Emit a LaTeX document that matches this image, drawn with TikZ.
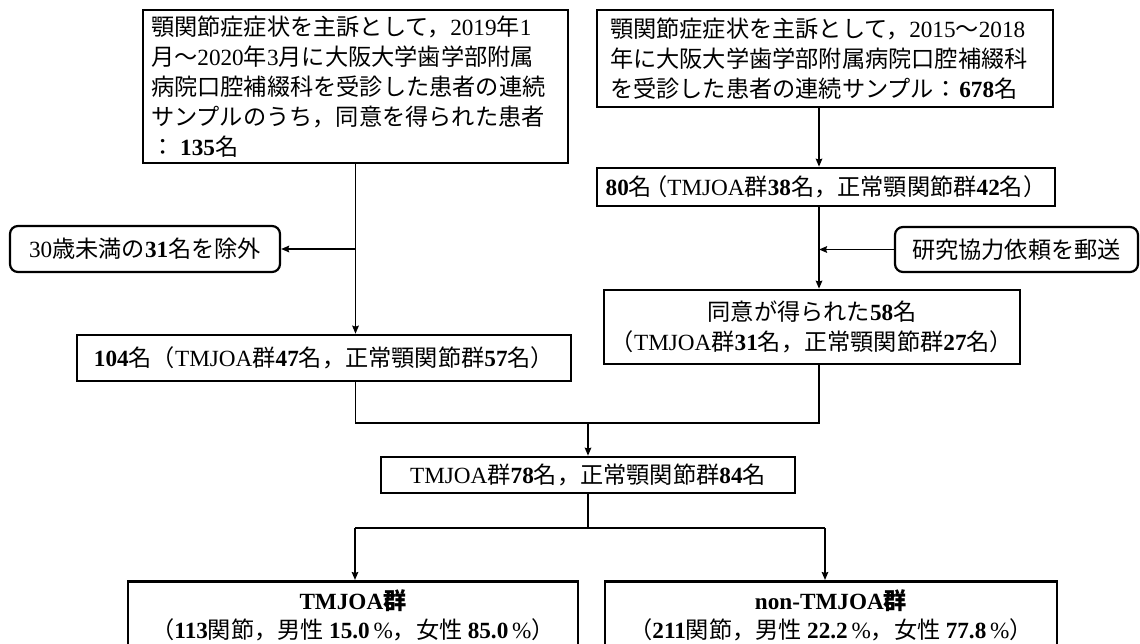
\documentclass[tikz,border=0pt]{standalone}
\usepackage{fontspec}
\setmainfont{Noto Sans CJK JP}
\newfontfamily\tnr{Liberation Serif}
\newcommand\nm[1]{{\tnr #1}}
\newcommand\bn[1]{{\tnr\bfseries #1}}
\usetikzlibrary{arrows.meta}
\begin{document}
\begin{tikzpicture}[x=1pt,y=-1pt,
  box/.style={draw, line width=2.6pt, inner sep=0pt, font=\fontsize{23.2}{30}\selectfont},
  rbox/.style={box, rounded corners=8pt, line width=2.2pt},
  arr/.style={line width=1.8pt, -{Stealth[length=8pt,width=6.5pt,inset=1pt]}},
  ln/.style={line width=1.8pt},
]
\useasboundingbox (0,0) rectangle (1140,644);
\clip (0,0) rectangle (1140,644);

\node[box, minimum width=425pt, minimum height=153pt, text width=409pt, align=left] (A) at (355.5,86.5)
 {顎関節症症状を主訴として，\nm{2019}年\nm{1}\\
  月〜\nm{2020}年\nm{3}月に大阪大学歯学部附属\\
  病院口腔補綴科を受診した患者の連続\\
  サンプルのうち，同意を得られた患者\\
  ：\hspace{6pt}\bn{135}名};

\node[box, minimum width=456pt, minimum height=97pt, text width=430pt, align=left] (B) at (825,58.5)
 {顎関節症症状を主訴として，\nm{2015}〜\nm{2018}\\
  年に大阪大学歯学部附属病院口腔補綴科\\
  を受診した患者の連続サンプル：\hspace{2pt}\bn{678}名};

\node[box, minimum width=458pt, minimum height=38pt] (n80) at (826,187)
 {\bn{80}名\hspace{-8pt}（\nm{TMJOA}群\bn{38}名，正常顎関節群\bn{42}名）};

\node[rbox, minimum width=270pt, minimum height=46pt] (n30) at (145,249)
 {\nm{30}歳未満の\bn{31}名を除外};

\node[rbox, minimum width=243pt, minimum height=45pt] (ken) at (1016.5,249.5)
 {研究協力依頼を郵送};

\node[box, minimum width=494pt, minimum height=46pt] (n104) at (324,358)
 {\bn{104}名（\nm{TMJOA}群\bn{47}名，正常顎関節群\bn{57}名）};

\node[box, minimum width=416pt, minimum height=74pt, align=center] (n58) at (812,327)
 {同意が得られた\bn{58}名\\（\nm{TMJOA}群\bn{31}名，正常顎関節群\bn{27}名）};

\node[box, minimum width=414pt, minimum height=36pt] (n78) at (588,475)
 {\nm{TMJOA}群\bn{78}名，正常顎関節群\bn{84}名};

\node[box, anchor=north, minimum width=450pt, inner ysep=8pt, align=center,
      font=\fontsize{23.2}{29}\selectfont] (L) at (353,580)
 {{\bfseries\bn{TMJOA}群}\\（\bn{113}関節，男性 \bn{15.0}\nm{\,\%}，女性 \bn{85.0}\nm{\,\%}）};

\node[box, anchor=north, minimum width=452pt, inner ysep=8pt, align=center,
      font=\fontsize{23.2}{29}\selectfont] (R) at (831,580)
 {{\bfseries\bn{non-TMJOA}群}\\（\bn{211}関節，男性 \bn{22.2}\nm{\,\%}，女性 \bn{77.8}\nm{\,\%}）};

\coordinate (rx) at (819,0);
\coordinate (jy) at (0,423);
\coordinate (ky) at (0,528);
\coordinate (lx) at (355,0);
\coordinate (brx) at (825,0);

\draw[arr] (A.south) -- (A.south |- n104.north);
\draw[arr] (A.south |- n30.east) -- (n30.east);
\draw[arr] (B.south -| rx) -- (n80.north -| rx);
\draw[arr] (n80.south -| rx) -- (n58.north -| rx);
\draw[arr] (ken.west) -- (ken.west -| rx);
\draw[ln] (n104.south -| A.south) -- (jy -| A.south) -- (jy -| rx) -- (n58.south -| rx);
\draw[arr] (jy -| n78.north) -- (n78.north);
\draw[ln] (n78.south) -- (ky -| n78.south);
\draw[ln] (ky -| lx) -- (ky -| brx);
\draw[arr] (ky -| lx) -- (L.north -| lx);
\draw[arr] (ky -| brx) -- (R.north -| brx);
\end{tikzpicture}
\end{document}
